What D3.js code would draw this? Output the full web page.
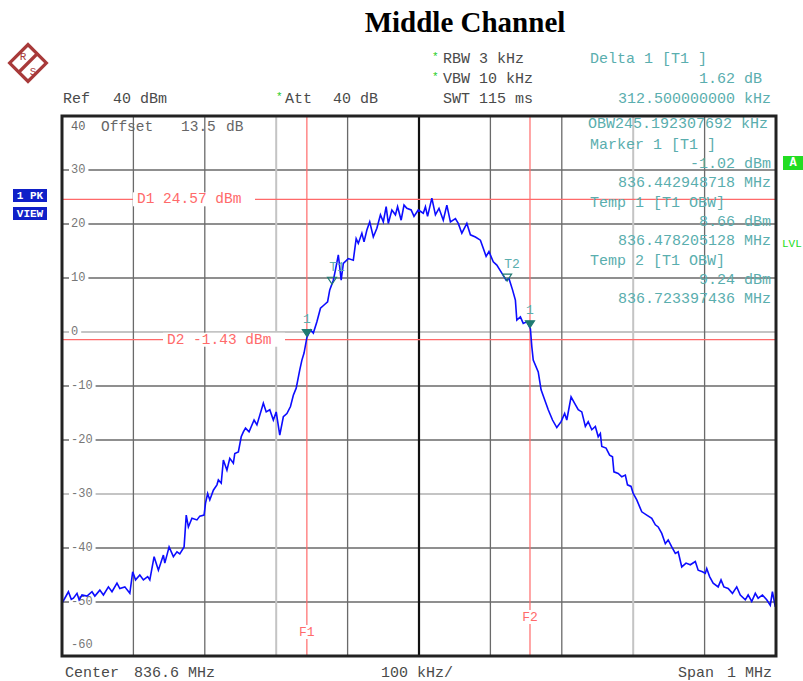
<!DOCTYPE html>
<html>
<head>
<meta charset="utf-8">
<script src="https://cdn.jsdelivr.net/npm/d3@7"></script>
<style>
body { margin: 0; background: #fff; }
text { font-family: "Liberation Mono", "DejaVu Sans Mono", monospace; }
</style>
</head>
<body>
<div id="chart"></div>
<script>
// trace, offset from centre (kHz) and level (dBm)
var traceKHz = [-499,-491,-487,-484,-479,-476,-472,-465,-458,-454,
  -447,-442,-435,-430,-423,-419,-412,-405,-401,-397,
  -391,-386,-380,-377,-371,-365,-358,-356,-350,-344,
  -339,-335,-329,-326,-323,-318,-311,-307,-301,-299,
  -296,-293,-288,-283,-281,-277,-274,-269,-265,-260,
  -258,-253,-249,-246,-243,-238,-231,-227,-218,-214,
  -209,-204,-200,-195,-190,-185,-180,-176,-172,-167,
  -164,-161,-157,-152,-148,-143,-138,-133,-128,-125,
  -120,-117,-113,-109,-106,-99,-92,-88,-85,-80,
  -77,-73,-69,-64,-59,-54,-50,-46,-43,-38,
  -33,-30,-25,-21,-17,-11,-7,-1,6,9,
  12,18,23,28,34,39,44,51,55,60,
  67,72,79,86,90,94,98,104,109,116,
  122,126,131,135,137,142,146,151,156,158,
  160,167,171,177,181,187,193,199,204,207,
  213,218,223,228,233,237,242,247,251,254,
  256,262,267,271,273,279,284,289,292,297,
  300,305,312,319,326,331,335,340,345,349,
  354,359,363,368,374,380,387,391,397,401,
  403,407,412,419,423,427,433,439,445,450,
  457,461,466,471,475,481,487,492,495,499];
var traceDBm = [-50.0,-48.1,-49.5,-49.3,-48.4,-49.6,-48.7,-48.9,-48.1,-48.9,
  -47.8,-48.7,-47.2,-48.1,-46.5,-47.5,-47.2,-48.4,-44.4,-45.9,
  -45.0,-45.9,-45.3,-45.9,-41.6,-44.1,-41.3,-42.8,-39.8,-41.6,
  -40.7,-41.1,-39.8,-33.9,-36.1,-34.5,-34.8,-34.1,-33.9,-31.7,
  -29.9,-31.1,-29.3,-28.3,-27.4,-28.0,-23.7,-25.6,-23.4,-24.3,
  -22.5,-22.2,-19.4,-18.5,-17.8,-18.5,-16.3,-17.2,-13.2,-14.8,
  -14.4,-16.3,-14.8,-19.1,-15.7,-15.1,-13.8,-11.7,-10.4,-7.0,
  -5.2,-3.9,-1.0,0.4,-0.2,1.9,4.4,5.0,5.6,7.8,
  9.6,11.5,14.3,9.6,12.7,13.6,13.3,17.3,16.4,18.3,
  16.7,18.9,20.4,17.6,19.2,21.7,20.4,23.2,20.1,22.6,
  21.7,23.2,20.7,23.5,22.9,22.6,21.4,22.6,22.0,23.2,
  21.4,24.8,21.7,22.9,20.7,23.5,20.4,21.0,20.1,18.3,
  20.1,18.0,17.6,17.0,15.5,14.0,14.9,13.0,12.4,10.9,
  9.6,9.9,7.8,5.9,2.2,2.8,1.6,1.9,0.6,-2.7,
  -5.2,-7.4,-10.7,-12.9,-14.4,-16.3,-17.7,-16.6,-15.1,-16.3,
  -12.0,-13.2,-14.4,-14.8,-17.5,-16.6,-18.1,-17.5,-19.4,-18.8,
  -21.2,-21.5,-22.8,-23.1,-25.9,-26.2,-26.8,-26.5,-28.3,-28.6,
  -29.9,-31.1,-33.3,-33.9,-34.5,-35.7,-36.1,-37.3,-39.2,-38.5,
  -39.8,-41.0,-40.7,-43.5,-42.8,-43.1,-42.5,-44.1,-44.4,-44.7,
  -43.8,-45.3,-46.5,-47.2,-45.9,-47.2,-47.5,-48.4,-47.2,-48.7,
  -49.6,-48.7,-49.9,-48.4,-49.3,-48.7,-49.6,-50.6,-48.1,-50.9];

var yTicks = [40, 30, 20, 10, 0, -10, -20, -30, -40, -50, -60];
var xTicks = [-500, -400, -300, -200, -100, 0, 100, 200, 300, 400, 500];

// display lines and frequency lines
var dLineNames = ["D1", "D2"];
var dLineDBm = [24.57, -1.43];
var fLineNames = ["F1", "F2"];
var fLineKHz = [-157.05, 155.45];

// markers
var markerLabels = ["1", "1", "T1", "T2"];
var markerKHz = [-157.05, 155.45, -121.79, 123.40];
var markerDBm = [-1.02, 0.60, 8.66, 9.24];

var infoLines = ["Delta 1 [T1 ]", "1.62 dB", "312.500000000 kHz", "OBW245.192307692 kHz",
  "Marker 1 [T1 ]", "-1.02 dBm", "836.442948718 MHz", "Temp 1 [T1 OBW]", "8.66 dBm",
  "836.478205128 MHz", "Temp 2 [T1 OBW]", "9.24 dBm", "836.723397436 MHz"];

var teal = "#5aaeae";
var red = "#ff6a6a";
var grey = "#4a4a4a";

var svg = d3.select("#chart").append("svg")
  .attr("width", 803)
  .attr("height", 681);

var x = d3.scaleLinear().domain([-500, 500]).range([62, 776]);
var y = d3.scaleLinear().domain([-60, 40]).range([656, 116]);

// title
svg.append("text")
  .attr("x", 465).attr("y", 32)
  .attr("text-anchor", "middle")
  .style("font-family", "'Liberation Serif', serif")
  .style("font-weight", "bold")
  .style("font-size", "29px")
  .text("Middle Channel");

// R&S logo
var logo = svg.append("g").attr("transform", "translate(28,63)");
logo.append("rect")
  .attr("x", -13).attr("y", -13).attr("width", 26).attr("height", 26)
  .attr("transform", "rotate(45)")
  .attr("fill", "none").attr("stroke", "#a83a3a").attr("stroke-width", 3.2);
logo.append("line")
  .attr("x1", -10).attr("y1", 10).attr("x2", 10).attr("y2", -10)
  .attr("stroke", "#a83a3a").attr("stroke-width", 3.2);
logo.append("text").attr("x", -5).attr("y", -3).attr("text-anchor", "middle")
  .style("font-size", "11px").attr("fill", "#a83a3a").text("R");
logo.append("text").attr("x", 5).attr("y", 12).attr("text-anchor", "middle")
  .style("font-size", "11px").attr("fill", "#a83a3a").text("S");

// header texts
function txt(xp, yp, s, col, size, anchor) {
  return svg.append("text")
    .attr("x", xp).attr("y", yp)
    .attr("dominant-baseline", "central")
    .attr("text-anchor", anchor || "start")
    .attr("fill", col)
    .style("font-size", size + "px")
    .style("white-space", "pre")
    .text(s);
}
txt(432, 57, "*", "#22cc22", 11);
txt(432, 77, "*", "#22cc22", 11);
txt(276, 97, "*", "#22cc22", 11);
txt(443, 59, "RBW 3 kHz", grey, 15);
txt(443, 79, "VBW 10 kHz", grey, 15);
txt(443, 99, "SWT 115 ms", grey, 15);
txt(63, 99, "Ref", grey, 15);
txt(113, 99, "40 dBm", grey, 15);
txt(285, 99, "Att", grey, 15);
txt(333, 99, "40 dB", grey, 15);

// side boxes
svg.append("rect").attr("x", 13).attr("y", 189).attr("width", 34).attr("height", 13).attr("fill", "#1020c8");
svg.append("rect").attr("x", 13).attr("y", 207).attr("width", 34).attr("height", 13).attr("fill", "#1020c8");
txt(30, 196, "1 PK", "#fff", 11, "middle").style("font-weight", "bold");
txt(30, 214, "VIEW", "#fff", 11, "middle").style("font-weight", "bold");
svg.append("rect").attr("x", 783).attr("y", 156).attr("width", 20).attr("height", 14).attr("fill", "#22dd22");
txt(793, 163, "A", "#fff", 12, "middle").style("font-weight", "bold");
txt(782, 244, "LVL", "#22dd22", 11);

// grid
var plot = svg.append("g");
var lightY = [0, -30];
var lightX = [-200, 300];
plot.selectAll(".gy").data(yTicks.slice(1, -1)).enter().append("line")
  .attr("x1", x(-500)).attr("x2", x(500))
  .attr("y1", function(d) { return y(d); })
  .attr("y2", function(d) { return y(d); })
  .attr("stroke", function(d) { return lightY.indexOf(d) >= 0 ? "#c4c4c4" : "#6a6a6a"; })
  .attr("stroke-width", function(d) { return lightY.indexOf(d) >= 0 ? 2 : 1.3; });
plot.selectAll(".gx").data(xTicks.slice(1, -1)).enter().append("line")
  .attr("y1", y(40)).attr("y2", y(-60))
  .attr("x1", function(d) { return x(d); })
  .attr("x2", function(d) { return x(d); })
  .attr("stroke", function(d) { return d === 0 ? "#111" : (lightX.indexOf(d) >= 0 ? "#c4c4c4" : "#6a6a6a"); })
  .attr("stroke-width", function(d) { return d === 0 ? 2.2 : (lightX.indexOf(d) >= 0 ? 2 : 1.3); });

// y labels
yTicks.forEach(function(d) {
  if (d === 40) return;
  var yy = d === -60 ? y(d) - 11 : y(d);
  var lab = String(d);
  plot.append("rect")
    .attr("x", 69).attr("y", yy - 6)
    .attr("width", lab.length * 7.2 + 5).attr("height", 12)
    .attr("fill", "#fff");
  plot.append("text")
    .attr("x", 71).attr("y", yy)
    .attr("dominant-baseline", "central")
    .attr("fill", "#777")
    .style("font-size", "12px")
    .text(lab);
});
txt(71, 127, "40", "#666", 12);
txt(101, 127, "Offset", "#666", 14.5);
txt(181, 127, "13.5", "#666", 14.5);
txt(226, 127, "dB", "#666", 14.5);

// display lines
dLineDBm.forEach(function(v, i) {
  plot.append("line")
    .attr("x1", x(-500)).attr("x2", x(500))
    .attr("y1", y(v)).attr("y2", y(v))
    .attr("stroke", red).attr("stroke-width", 1.2);
  var lx = i === 0 ? 133 : 163;
  var lab = dLineNames[i] + " " + v.toFixed(2) + " dBm";
  plot.append("rect").attr("x", lx).attr("y", y(v) - 7)
    .attr("width", 122).attr("height", 14).attr("fill", "#fff");
  plot.append("text")
    .attr("x", lx + 4).attr("y", y(v))
    .attr("dominant-baseline", "central")
    .attr("fill", red)
    .style("font-size", "14.5px")
    .style("white-space", "pre")
    .text(lab);
});

// frequency lines
fLineKHz.forEach(function(v, i) {
  plot.append("line")
    .attr("x1", x(v)).attr("x2", x(v))
    .attr("y1", y(40)).attr("y2", y(-60))
    .attr("stroke", red).attr("stroke-width", 1.2);
  var ly = i === 0 ? 632 : 617;
  plot.append("rect").attr("x", x(v) - 9).attr("y", ly - 7)
    .attr("width", 18).attr("height", 14).attr("fill", "#fff");
  plot.append("text")
    .attr("x", x(v)).attr("y", ly)
    .attr("text-anchor", "middle")
    .attr("dominant-baseline", "central")
    .attr("fill", red)
    .style("font-size", "13px")
    .text(fLineNames[i]);
});

// info block (teal)
var infoY = [59, 79, 99, 124, 145, 164, 183, 203, 222, 241, 261, 280, 299];
var infoRight = [false, true, true, false, false, true, true, false, true, true, false, true, true];
infoLines.forEach(function(s, i) {
  var right = infoRight[i];
  var xr = 771;
  if (s.indexOf(" dB") > 0 && s.indexOf("dBm") < 0) xr = 762;
  txt(right ? xr : (i === 3 ? 588 : 590), infoY[i], s, teal, 15, right ? "end" : "start");
});

// trace
var line = d3.line()
  .x(function(d, i) { return x(traceKHz[i]); })
  .y(function(d) { return y(d); })
  .curve(d3.curveLinear);
plot.append("path")
  .datum(traceDBm)
  .attr("d", line)
  .attr("fill", "none")
  .attr("stroke", "#0d0dff")
  .attr("stroke-width", 1.6);

// markers
markerLabels.forEach(function(m, i) {
  var mx = x(markerKHz[i]), my = y(markerDBm[i]);
  var isTemp = m.charAt(0) === "T";
  plot.append("path")
    .attr("d", "M" + (mx - 4.5) + "," + (my - 8) + "L" + (mx + 4.5) + "," + (my - 8) + "L" + mx + "," + (my - 1) + "Z")
    .attr("fill", isTemp ? "none" : "#1f7a72")
    .attr("stroke", "#1f7a72")
    .attr("stroke-width", 1.2);
  plot.append("text")
    .attr("x", mx + (isTemp ? 5 : 0)).attr("y", my - 18)
    .attr("text-anchor", "middle")
    .attr("dominant-baseline", "central")
    .attr("fill", teal)
    .style("font-size", "13px")
    .text(m);
});

// frame
svg.append("rect")
  .attr("x", x(-500)).attr("y", y(40))
  .attr("width", x(500) - x(-500)).attr("height", y(-60) - y(40))
  .attr("fill", "none").attr("stroke", "#222").attr("stroke-width", 3);

// footer
txt(65, 673, "Center", grey, 15);
txt(134, 673, "836.6 MHz", grey, 15);
txt(381, 673, "100 kHz/", grey, 15);
txt(678, 673, "Span", grey, 15);
txt(727, 673, "1 MHz", grey, 15);
</script>
</body>
</html>
